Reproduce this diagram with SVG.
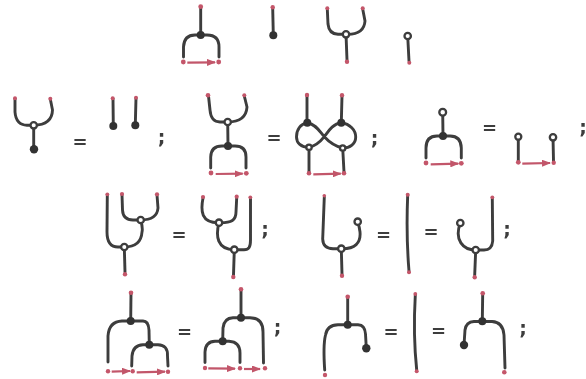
<svg xmlns="http://www.w3.org/2000/svg" width="586" height="379" viewBox="0 0 586 379">
<defs>
<marker id="ah" viewBox="0 0 9 7" refX="8" refY="3.500" markerWidth="9" markerHeight="7" markerUnits="userSpaceOnUse" orient="auto"><path d="M0 0L9 3.500L0 7z" fill="#c2566a"/></marker>
<filter id="soft" x="0" y="0" width="100%" height="100%"><feGaussianBlur stdDeviation="0.35"/></filter>
</defs>
<style>
.w{fill:none;stroke:#3c3c3c;stroke-width:2.900;stroke-linecap:round;stroke-linejoin:round}
.a{fill:none;stroke:#c2566a;stroke-width:2.200;marker-end:url(#ah)}
.p{fill:#c4566a}
.b{fill:#333}
.o{fill:#fff;stroke:#3c3c3c;stroke-width:2.300}
text{font-family:"DejaVu Sans",sans-serif;font-weight:bold;fill:#3c3c3c;text-anchor:middle}
.e{font-size:18px}
.s{font-size:19px}
</style>
<rect width="586" height="379" fill="#fff"/>
<g filter="url(#soft)">
<g id="connectors">
<path class="w" d="M200.700 7V35M183.500 57V47Q184 35 195 35H207Q219 35 219 47V57"/>
<path class="a" d="M187.300 62.700L215 62.300"/>
<path class="w" d="M272.700 8L273.300 35"/>
<path class="w" d="M327.300 9L328 24Q329 34 338 34.300H346Q364 35 365 21L362.700 9M346 34L347 60"/>
<path class="w" d="M407.700 36L409 61"/>
<path class="w" d="M15 99V112Q16 125 27 125.300H33.700Q52 125 52.500 110L50.300 99M33.700 125V149"/>
<path class="w" d="M113 99L113.300 126M136 98L135.300 125"/>
<path class="w" d="M208.500 96L210 110Q211 122 220 122H227.700Q246 122 247 107L244.300 96M227.700 122L228 146M210.700 168V157Q211 146 222 146H235Q246 146 246 157V168"/>
<path class="a" d="M215.700 174L242.700 173.700"/>
<path class="w" d="M307 96V122.700M342 96L341.300 122.700M309 147.300V172M342.700 148L344 172"/>
<path class="w" d="M307.300 122.700C316 124 320 132 324.300 136.700S334 146 342.700 148M341.300 122.700C332 124 328 132 324.300 136.700S316 146 309 147.300M307.300 122.700C300 124 296.500 130 296.500 137C296.500 143 301 147 309 147.300M341.300 122.700C350 124 355.700 130 355.700 137C355.700 144 350 148 342.700 148"/>
<path class="a" d="M313.300 174.300L340.700 173.700"/>
<path class="w" d="M442.700 112.300L443 136M426 158V148Q426 136 437 136H450Q461 136 461.300 148V158"/>
<path class="a" d="M430.700 164.300L458.300 163.700"/>
<path class="w" d="M518.300 137V161M553 137L553.500 161"/>
<path class="a" d="M522.300 163.700L550 163"/>
<path class="w" d="M107.300 195L107 232Q107 247 118 247H124.300Q141 247 142 232Q143 228 140.700 220M122 195L122.500 210Q123 220 133 220H140.700Q157 220 158 208L157 195M124.300 247L125 272"/>
<path class="w" d="M203 198C200.500 211 201 223 219 222.700C232 223 236 220 236 212L236.700 198M219 222.700C215.500 236 217 249.500 234.300 249.700H244C249 249.700 250.500 247 250.500 240V199M234.300 250L233.500 275"/>
<path class="w" d="M324.300 197L322.700 239Q323 248.500 333 248.700H341.300C355 249 361 243 360 232Q359.500 227 357.700 222M341.300 248.700L342 274"/>
<path class="w" d="M407.700 195Q406 235 409 271"/>
<path class="w" d="M492.300 198L492.700 241Q492 250 484 250H475.700C463 250 454 240 460.300 223M475.700 250L474.700 275"/>
<path class="w" d="M131 293L130.700 321M108 362V336Q109 321.500 122 321H143Q148.500 321 149 330L149.300 344.700M131.700 366L132 356Q133 345 143 344.700H158Q168 345 167.500 356L168 366"/>
<path class="a" d="M111.700 371.700L130 371"/>
<path class="a" d="M136.700 372.300L165 371.700"/>
<path class="w" d="M241 290V317.700M222.700 341.300L223 328Q224 318 233 317.700H250Q263 318 263 332L263.500 363M205 362.500V352Q205.500 341.500 215 341.300H229Q240 342 240 353V362.500"/>
<path class="a" d="M208.300 368.300L235 368.700"/>
<path class="a" d="M244 369L260 369"/>
<path class="w" d="M347.700 297V324.700M324.700 370Q323 345 325.500 335Q327 325 338 324.700H358Q365 325 365.500 334L366.300 348"/>
<path class="w" d="M415.300 295Q413 335 416.700 370"/>
<path class="w" d="M482.700 294L482.300 321.300M464 345L465 330Q466 322 474 321.500H492Q503 322 504 335L505 368"/>
</g>
<g id="n01"><circle class="p" cx="200.700" cy="6.700" r="2.400"/></g>
<g id="n02"><circle class="b" cx="200.700" cy="35" r="4"/></g>
<g id="n03"><circle class="p" cx="183.300" cy="62" r="2.400"/></g>
<g id="n04"><circle class="p" cx="218.700" cy="62" r="2.400"/></g>
<g id="n05"><circle class="p" cx="272.700" cy="7.300" r="2.200"/></g>
<g id="n06"><circle class="b" cx="273.300" cy="35.300" r="4"/></g>
<g id="n07"><circle class="p" cx="327.300" cy="8.300" r="2"/></g>
<g id="n08"><circle class="p" cx="362.700" cy="8.300" r="2"/></g>
<g id="n09"><circle class="o" cx="346" cy="34.300" r="3.200"/></g>
<g id="n10"><circle class="p" cx="347" cy="61.700" r="2.200"/></g>
<g id="n11"><circle class="o" cx="407.700" cy="36" r="3.200"/></g>
<g id="n12"><circle class="p" cx="409.300" cy="62.700" r="2"/></g>
<g id="n13"><circle class="p" cx="15" cy="98.300" r="2"/></g>
<g id="n14"><circle class="p" cx="50.300" cy="98.700" r="2"/></g>
<g id="n15"><circle class="o" cx="33.700" cy="125.300" r="3.200"/></g>
<g id="n16"><circle class="b" cx="34" cy="149.300" r="4.200"/></g>
<g id="n17"><circle class="p" cx="112.700" cy="98.300" r="2"/></g>
<g id="n18"><circle class="b" cx="113.300" cy="126" r="4"/></g>
<g id="n19"><circle class="p" cx="136" cy="97.700" r="2"/></g>
<g id="n20"><circle class="b" cx="135.300" cy="125.300" r="4"/></g>
<g id="n21"><circle class="p" cx="208" cy="95.300" r="2.300"/></g>
<g id="n22"><circle class="p" cx="244.300" cy="95.300" r="2"/></g>
<g id="n23"><circle class="o" cx="227.700" cy="122" r="3.200"/></g>
<g id="n24"><circle class="b" cx="228" cy="146" r="4"/></g>
<g id="n25"><circle class="p" cx="211" cy="173" r="2.400"/></g>
<g id="n26"><circle class="p" cx="246.300" cy="173.300" r="2.400"/></g>
<g id="n27"><circle class="p" cx="307" cy="95" r="2.200"/></g>
<g id="n28"><circle class="p" cx="342" cy="95.300" r="2.200"/></g>
<g id="n29"><circle class="b" cx="307.300" cy="122.700" r="4"/></g>
<g id="n30"><circle class="b" cx="341.300" cy="122.700" r="4"/></g>
<g id="n31"><circle class="o" cx="309" cy="147.300" r="2.700"/></g>
<g id="n32"><circle class="o" cx="342.700" cy="148" r="2.700"/></g>
<g id="n33"><circle class="p" cx="309" cy="173.300" r="2.300"/></g>
<g id="n34"><circle class="p" cx="344" cy="173.300" r="2.300"/></g>
<g id="n35"><circle class="o" cx="442.700" cy="112.300" r="3.400"/></g>
<g id="n36"><circle class="b" cx="443" cy="136" r="4"/></g>
<g id="n37"><circle class="p" cx="426" cy="163" r="2.400"/></g>
<g id="n38"><circle class="p" cx="461.300" cy="163.300" r="2.400"/></g>
<g id="n39"><circle class="o" cx="518.300" cy="136.700" r="3"/></g>
<g id="n40"><circle class="p" cx="518.300" cy="162.300" r="2.400"/></g>
<g id="n41"><circle class="o" cx="553" cy="137.300" r="3.200"/></g>
<g id="n42"><circle class="p" cx="553.700" cy="162.700" r="2.200"/></g>
<g id="n43"><circle class="p" cx="107.300" cy="194.300" r="1.900"/></g>
<g id="n44"><circle class="p" cx="122" cy="194" r="2.100"/></g>
<g id="n45"><circle class="p" cx="157" cy="194.300" r="2.100"/></g>
<g id="n46"><circle class="o" cx="140.700" cy="220" r="3.200"/></g>
<g id="n47"><circle class="o" cx="124.300" cy="247" r="3.200"/></g>
<g id="n48"><circle class="p" cx="125" cy="274.300" r="2.200"/></g>
<g id="n49"><circle class="p" cx="203" cy="197" r="2.100"/></g>
<g id="n50"><circle class="p" cx="236.700" cy="196.700" r="2.100"/></g>
<g id="n51"><circle class="p" cx="250.300" cy="197.300" r="1.900"/></g>
<g id="n52"><circle class="o" cx="219" cy="222.700" r="3.200"/></g>
<g id="n53"><circle class="o" cx="234.300" cy="249.700" r="3.200"/></g>
<g id="n54"><circle class="p" cx="233.300" cy="277" r="2.200"/></g>
<g id="n55"><circle class="p" cx="324.300" cy="195.700" r="1.800"/></g>
<g id="n56"><circle class="o" cx="357.700" cy="221.700" r="3.200"/></g>
<g id="n57"><circle class="o" cx="341.300" cy="248.700" r="3.200"/></g>
<g id="n58"><circle class="p" cx="342" cy="275.700" r="2.200"/></g>
<g id="n59"><circle class="p" cx="407.700" cy="194.700" r="2"/></g>
<g id="n60"><circle class="p" cx="409" cy="272.300" r="2"/></g>
<g id="n61"><circle class="o" cx="460.300" cy="223" r="3.200"/></g>
<g id="n62"><circle class="p" cx="492.300" cy="197.300" r="1.900"/></g>
<g id="n63"><circle class="o" cx="475.700" cy="250" r="3.200"/></g>
<g id="n64"><circle class="p" cx="474.700" cy="277.300" r="2.200"/></g>
<g id="n65"><circle class="p" cx="131" cy="292.700" r="2.300"/></g>
<g id="n66"><circle class="b" cx="130.700" cy="321" r="4"/></g>
<g id="n67"><circle class="b" cx="149.300" cy="344.700" r="4"/></g>
<g id="n68"><circle class="p" cx="108" cy="371.300" r="2.200"/></g>
<g id="n69"><circle class="p" cx="132.700" cy="371.300" r="2.200"/></g>
<g id="n70"><circle class="p" cx="168" cy="371.700" r="2.200"/></g>
<g id="n71"><circle class="p" cx="241" cy="289.300" r="2.300"/></g>
<g id="n72"><circle class="b" cx="241" cy="317.700" r="4"/></g>
<g id="n73"><circle class="b" cx="222.700" cy="341.300" r="4"/></g>
<g id="n74"><circle class="p" cx="205" cy="368" r="2.200"/></g>
<g id="n75"><circle class="p" cx="240" cy="368.300" r="2.200"/></g>
<g id="n76"><circle class="p" cx="265" cy="368.300" r="2.200"/></g>
<g id="n77"><circle class="p" cx="347.700" cy="296.700" r="2.300"/></g>
<g id="n78"><circle class="b" cx="347.700" cy="324.700" r="4"/></g>
<g id="n79"><circle class="p" cx="325" cy="375" r="2.200"/></g>
<g id="n80"><circle class="b" cx="366.300" cy="348.300" r="4.200"/></g>
<g id="n81"><circle class="p" cx="415.300" cy="294" r="1.900"/></g>
<g id="n82"><circle class="p" cx="416.700" cy="371.300" r="2"/></g>
<g id="n83"><circle class="p" cx="482.700" cy="293.300" r="2.300"/></g>
<g id="n84"><circle class="b" cx="482.300" cy="321.300" r="4"/></g>
<g id="n85"><circle class="b" cx="464" cy="345" r="4.200"/></g>
<g id="n86"><circle class="p" cx="504.300" cy="372.300" r="2.300"/></g>
<g id="symbols">
<text class="e" x="80" y="148">=</text>
<text class="s" x="161.500" y="144">;</text>
<text class="e" x="274" y="144">=</text>
<text class="s" x="374.500" y="144.700">;</text>
<text class="e" x="489.500" y="134">=</text>
<text class="s" x="583" y="134">;</text>
<text class="e" x="179" y="241.400">=</text>
<text class="s" x="265" y="235.700">;</text>
<text class="e" x="383.500" y="240.700">=</text>
<text class="e" x="431" y="238.400">=</text>
<text class="s" x="507" y="235.700">;</text>
<text class="e" x="184.500" y="338.400">=</text>
<text class="s" x="277.500" y="334">;</text>
<text class="e" x="391" y="338.400">=</text>
<text class="e" x="438.500" y="337">=</text>
<text class="s" x="523" y="335">;</text>
</g>
</g>
</svg>
